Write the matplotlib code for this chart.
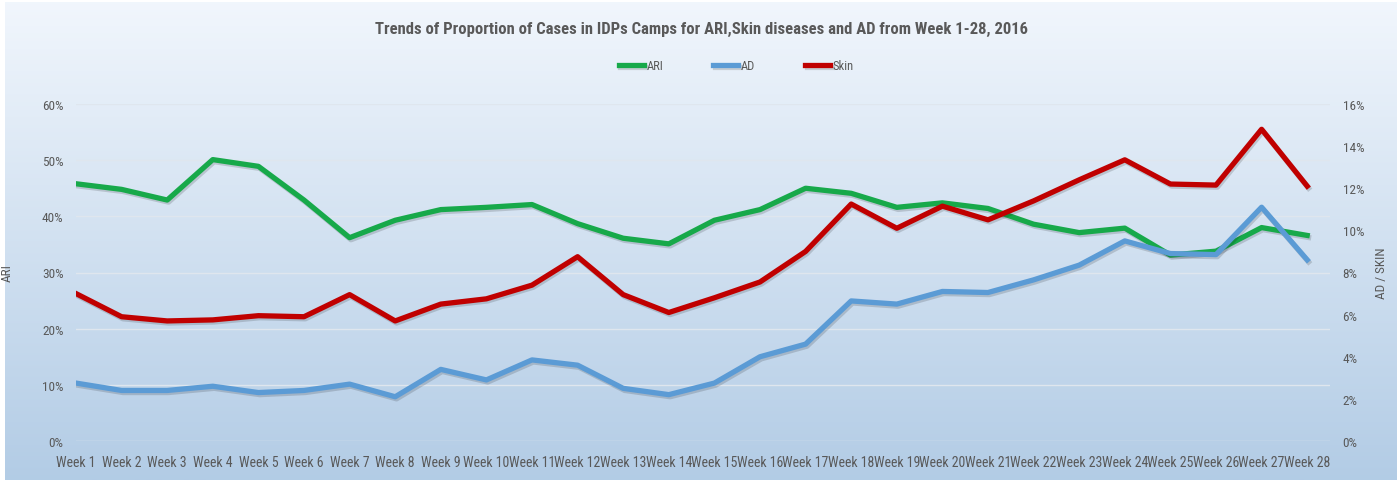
import numpy as np
import matplotlib
matplotlib.use("Agg")
import matplotlib.pyplot as plt
import matplotlib.patheffects as pe
from matplotlib.ticker import FuncFormatter

weeks = [f"Week {i}" for i in range(1, 29)]
ari = [45.8, 44.8, 42.9, 50.1, 48.9, 42.9, 36.2, 39.3, 41.2, 41.6, 42.1, 38.7, 36.1, 35.1,
       39.3, 41.2, 45.0, 44.1, 41.6, 42.4, 41.4, 38.6, 37.1, 37.9, 33.1, 33.8, 38.0, 36.6]
ad = [2.75, 2.4, 2.4, 2.6, 2.3, 2.4, 2.7, 2.1, 3.4, 2.9, 3.85, 3.6, 2.5, 2.2,
      2.75, 4.0, 4.6, 6.65, 6.5, 7.1, 7.05, 7.65, 8.35, 9.5, 8.9, 8.85, 11.1, 8.6]
skin = [7.0, 5.9, 5.7, 5.75, 5.95, 5.9, 6.95, 5.7, 6.5, 6.75, 7.4, 8.75, 6.95, 6.1,
        6.8, 7.55, 9.0, 11.25, 10.1, 11.15, 10.5, 11.4, 12.4, 13.35, 12.2, 12.15, 14.8, 12.1]

GREEN = "#17a94a"
BLUE = "#5b9bd5"
RED = "#c00000"
GREY = "#595959"

plt.rcParams["font.family"] = ["Roboto Condensed", "Liberation Sans", "DejaVu Sans"]

fig = plt.figure(figsize=(14, 4.81), dpi=100)

# gradient background of the chart area
bg = fig.add_axes([5 / 1400, 0, 1392 / 1400, 478 / 481])
grad = np.linspace(0, 1, 256).reshape(-1, 1)
top = np.array([0.945, 0.965, 0.99])
bot = np.array([0.70, 0.80, 0.90])
img = top + (bot - top) * grad[..., None].repeat(1, axis=1)
bg.imshow(img, aspect="auto", extent=[0, 1, 0, 1])
bg.axis("off")

ax = fig.add_axes([76 / 1400, 1 - 442 / 481, (1330 - 76) / 1400, (442 - 105) / 481])
ax.patch.set_alpha(0)
ax2 = ax.twinx()

x = np.arange(len(weeks))
shadow = [pe.SimpleLineShadow(offset=(1, -1.5), alpha=0.15), pe.Normal()]
l1, = ax.plot(x, ari, color=GREEN, lw=3.8, label="ARI", path_effects=shadow)
l2, = ax2.plot(x, ad, color=BLUE, lw=3.8, label="AD", path_effects=shadow)
l3, = ax2.plot(x, skin, color=RED, lw=3.8, label="Skin", path_effects=shadow)

ax.set_xlim(0, 27.5)
ax.set_ylim(0, 60)
ax2.set_ylim(0, 16)
ax.set_yticks(np.arange(0, 61, 10))
ax2.set_yticks(np.arange(0, 17, 2))
ax.yaxis.set_major_formatter(FuncFormatter(lambda v, p: f"{v:.0f}%"))
ax2.yaxis.set_major_formatter(FuncFormatter(lambda v, p: f"{v:.0f}%"))
ax.set_xticks(x)
ax.set_xticklabels(weeks)
ax.grid(axis="y", color="#dfe6ee", lw=1)
ax.set_axisbelow(True)

for a in (ax, ax2):
    for s in a.spines.values():
        s.set_visible(False)
    a.tick_params(length=0, colors=GREY, labelsize=9.5)
ax.tick_params(axis="x", labelsize=10, pad=10)
ax.tick_params(axis="y", pad=9)
ax2.tick_params(axis="y", pad=9)

ax.set_ylabel("ARI", color=GREY, fontsize=9.5)
ax.yaxis.set_label_coords(-0.05, 0.5)
ax2.set_ylabel("AD / SKIN", color=GREY, fontsize=9.5)
ax2.yaxis.set_label_coords(1.036, 0.5)

fig.suptitle("Trends of Proportion of Cases in IDPs Camps for ARI,Skin diseases and AD from Week 1-28, 2016",
             x=0.501, y=0.955, fontsize=12, fontweight="bold", color=GREY)
fig.legend(handles=[l1, l2, l3], loc="center", bbox_to_anchor=(0.526, 0.861), ncol=3, frameon=False,
           fontsize=9, handlelength=2.0, handletextpad=0.2, columnspacing=4.0, labelcolor=GREY)

fig.savefig("out.png", dpi=100)
